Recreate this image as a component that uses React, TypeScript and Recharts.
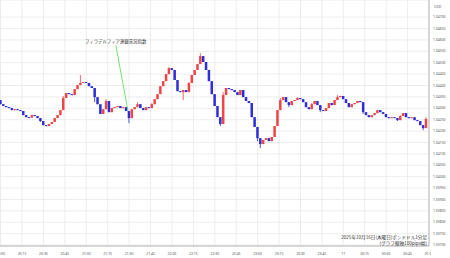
import React from "react";
import {
  ComposedChart,
  Bar,
  XAxis,
  YAxis,
  CartesianGrid,
  ReferenceLine,
  Customized,
} from "recharts";

// 2-minute closes, GBP/USD, 2025-10-16 20:00 -> 01:00 (JST)
const closes: number[] = [
  1.34318, 1.3431, 1.34305, 1.34301, 1.34292, 1.34296, 1.34292, 1.34288, 1.3427, 1.34261,
  1.34259, 1.3427, 1.34266, 1.34257, 1.34244, 1.34226, 1.34222, 1.34231, 1.3424, 1.34257,
  1.3427, 1.34292, 1.34345, 1.34367, 1.34362, 1.34358, 1.34384, 1.34402, 1.34411, 1.34415,
  1.34411, 1.34397, 1.34389, 1.34349, 1.34318, 1.34275, 1.34296, 1.34332, 1.34283, 1.34301,
  1.34305, 1.3431, 1.34301, 1.34305, 1.34288, 1.34257, 1.34296, 1.34305, 1.34318, 1.34301,
  1.34292, 1.34305, 1.34301, 1.34318, 1.3434, 1.34362, 1.34397, 1.34419, 1.3445, 1.34476,
  1.34468, 1.34424, 1.34375, 1.34371, 1.3438, 1.34371, 1.34411, 1.34446, 1.34468, 1.34494,
  1.34529, 1.34503, 1.34468, 1.34419, 1.34362, 1.3431, 1.34261, 1.34231, 1.34358, 1.34389,
  1.34384, 1.3438, 1.34371, 1.34358, 1.3438, 1.34349, 1.34332, 1.34323, 1.34261, 1.34218,
  1.34169, 1.34143, 1.34161, 1.34169, 1.34156, 1.34174, 1.34222, 1.34292, 1.34336, 1.34349,
  1.34327, 1.34314, 1.34332, 1.34336, 1.34345, 1.3434, 1.34327, 1.34305, 1.34296, 1.34318,
  1.34332, 1.34314, 1.34292, 1.34288, 1.34301, 1.34323, 1.34314, 1.34336, 1.34349, 1.34354,
  1.3434, 1.34323, 1.34305, 1.34318, 1.34323, 1.34332, 1.34327, 1.34283, 1.3427, 1.34261,
  1.3427, 1.34279, 1.34292, 1.34283, 1.34275, 1.34261, 1.34257, 1.34261, 1.34257, 1.34248,
  1.34266, 1.34279, 1.34261, 1.34257, 1.34261, 1.34248, 1.34244, 1.34226, 1.34213, 1.34253,
];
const firstOpen = 1.34336;

// notable wicks (candle index -> price)
const wickHighs: Record<number, number> = {
  0: 1.34336, 8: 1.34283, 22: 1.34354, 28: 1.34446, 35: 1.34301, 37: 1.34340, 48: 1.34327,
  53: 1.34323, 59: 1.34481, 66: 1.34415, 70: 1.34542, 78: 1.34371, 83: 1.34367, 98: 1.34345,
  104: 1.34349, 109: 1.34323, 118: 1.34358, 126: 1.34332, 140: 1.34270, 149: 1.34261,
};
const wickLows: Record<number, number> = {
  14: 1.34240, 17: 1.34222, 33: 1.34327, 45: 1.34235, 64: 1.34336, 77: 1.34222, 90: 1.34156,
  91: 1.34125, 101: 1.34305, 112: 1.34283, 127: 1.34275, 139: 1.34244, 148: 1.34204,
};

const minutesPerCandle = 2;
const xTicks = [0, 15, 30, 45, 60, 75, 90, 105, 120, 135, 150, 165, 180, 195, 210, 225, 240, 255, 270, 285, 300];
const xTickLabels = [
  "20:00", "20:15", "20:30", "20:45", "21:00", "21:15", "21:30", "21:45", "22:00", "22:15",
  "22:30", "22:45", "23:00", "23:15", "23:30", "23:45", "17", "00:15", "00:30", "00:45", "01:00",
];
const yTicks = [
  1.337, 1.3375, 1.338, 1.3385, 1.339, 1.3395, 1.34, 1.3405, 1.341, 1.3415, 1.342,
  1.3425, 1.343, 1.3435, 1.344, 1.3445, 1.345, 1.3455, 1.346, 1.3465, 1.347,
];

// Philadelphia Fed index release annotation (minute, price)
const eventLineStart = { x: 80.7, y: 1.34577 };
const eventLineEnd = { x: 89.2, y: 1.34288 };

const RED = "#ee4646";
const BLUE = "#2e2ed6";

const data = closes.map((c, i) => {
  const o = i === 0 ? firstOpen : closes[i - 1];
  const hi = wickHighs[i] ?? Math.max(o, c);
  const lo = wickLows[i] ?? Math.min(o, c);
  return { t: i * minutesPerCandle, open: o, close: c, high: hi, low: lo, range: [lo, hi] };
});

const Candle = (props: any) => {
  const { x, y, width, height, payload } = props;
  if (x == null || y == null) return null;
  const { open, close, high, low } = payload;
  const top = Math.min(y, y + height);
  const h = Math.abs(height);
  const pix = (p: number) => (high === low ? top : top + ((high - p) / (high - low)) * h);
  const up = close >= open;
  const color = up ? RED : BLUE;
  const bt = pix(Math.max(open, close));
  const bb = pix(Math.min(open, close));
  const cx = x + width / 2;
  return (
    <g>
      <line x1={cx} x2={cx} y1={top} y2={top + h} stroke={color} strokeWidth={0.8} />
      <rect x={x} y={bt} width={width} height={Math.max(bb - bt, 1)} fill={color} />
    </g>
  );
};

const XTick = (props: any) => {
  const { x, y, payload, index } = props;
  const i = xTicks.indexOf(payload.value);
  const id = `xclip-${index}`;
  return (
    <g>
      <defs>
        <clipPath id={id}>
          <rect x={0} y={y - 2} width={431} height={14} />
        </clipPath>
      </defs>
      <text
        x={x}
        y={y + 7}
        textAnchor="middle"
        fontSize={3.4}
        fill="#555"
        fontFamily="'Noto Sans', sans-serif"
        clipPath={`url(#${id})`}
      >
        {xTickLabels[i]}
      </text>
    </g>
  );
};

const YTick = (props: any) => {
  const { y, payload } = props;
  return (
    <text x={433} y={y + 1.2} fontSize={3.4} fill="#555" fontFamily="'Noto Sans', sans-serif">
      {Number(payload.value).toFixed(5)}
    </text>
  );
};

const Overlay = () => (
  <g fontFamily="'Noto Sans CJK JP', 'Noto Sans', sans-serif">
    <text x={434} y={8} fontSize={3.6} fill="#555">USD</text>
    <text x={85} y={42.5} fontSize={4.4} fill="#333">フィラデルフィア連銀景況指数</text>
    <text x={427} y={239} fontSize={4.6} fill="#333" textAnchor="end">
      2025年10月16日(木曜日)ポンドドル1分足
    </text>
    <text x={427} y={244.5} fontSize={4.6} fill="#333" textAnchor="end">
      (グラフ縦軸100pips幅)
    </text>
  </g>
);

export default function App() {
  return (
    <div style={{ position: "absolute", left: 0, top: 0, width: 450, height: 258, background: "#fff" }}>
      <ComposedChart
        width={450}
        height={258}
        data={data}
        margin={{ top: 0, right: 0, bottom: 0, left: 0 }}
      >
        <CartesianGrid stroke="#e8e8e8" strokeWidth={0.8} />
        <XAxis
          dataKey="t"
          type="number"
          domain={[-0.42, 300]}
          ticks={xTicks}
          tick={<XTick />}
          tickLine={false}
          tickSize={0}
          height={12}
          axisLine={{ stroke: "#aaa", strokeWidth: 0.8 }}
          interval={0}
          allowDataOverflow
        />
        <YAxis
          orientation="right"
          type="number"
          domain={[1.33696, 1.34775]}
          ticks={yTicks}
          tick={<YTick />}
          tickLine={false}
          width={21}
          axisLine={{ stroke: "#aaa", strokeWidth: 0.8 }}
          interval={0}
          allowDataOverflow
        />
        <Bar dataKey="range" barSize={2.5} shape={<Candle />} isAnimationActive={false} />
        <ReferenceLine
          segment={[eventLineStart, eventLineEnd]}
          stroke="#4fdc4f"
          strokeWidth={0.8}
        />
        <Customized component={Overlay} />
      </ComposedChart>
    </div>
  );
}
